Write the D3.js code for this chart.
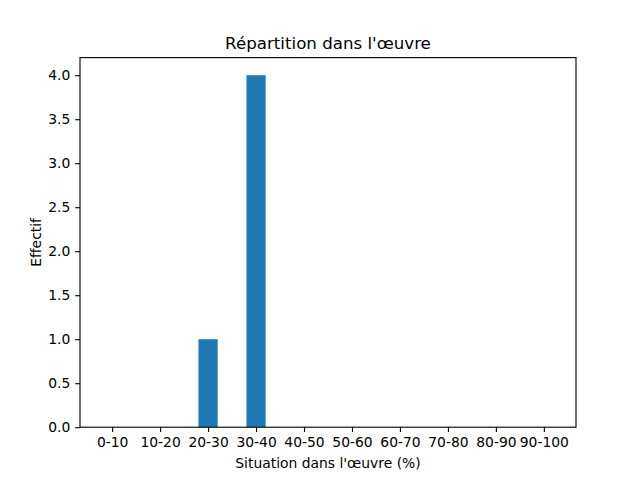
<!DOCTYPE html>
<html>
<head>
<meta charset="utf-8">
<script src="https://cdn.jsdelivr.net/npm/d3@7"></script>
<style>
  body { margin: 0; background: #fff; }
  svg text { font-family: "DejaVu Sans", sans-serif; fill: #000; }
</style>
</head>
<body>
<div id="viz"></div>
<script>
// Données
const categories = ['0-10', '10-20', '20-30', '30-40', '40-50', '50-60', '60-70', '70-80', '80-90', '90-100'];
const effectifs = [0, 0, 1, 4, 0, 0, 0, 0, 0, 0];
const yTicks = [0, 0.5, 1, 1.5, 2, 2.5, 3, 3.5, 4];

const COLOR_BAR = '#1f77b4';

let W = 640, H = 480;
let margin = {top: 57.6, right: 64, bottom: 52.8, left: 80},
    width = W - margin.left - margin.right,
    height = H - margin.top - margin.bottom;

let svg = d3.select('#viz')
  .append('svg')
    .attr('width', W)
    .attr('height', H);

let g = svg.append('g')
  .attr('transform', 'translate(' + margin.left + ',' + margin.top + ')');

// largeur des barres 0.4, marges de 5% comme matplotlib
let barW = 0.4;
let lo = -barW / 2, hi = categories.length - 1 + barW / 2;
let pad = (hi - lo) * 0.05;
let x = d3.scaleLinear()
  .domain([lo - pad, hi + pad])
  .range([0, width]);

let y = d3.scaleLinear()
  .domain([0, d3.max(effectifs) * 1.05])
  .range([height, 0]);

// Barres
g.selectAll('.bars')
  .data(effectifs)
  .enter()
  .append('rect')
    .attr('class', 'bars')
    .attr('x', function(d, i) { return x(i - barW / 2); })
    .attr('width', function() { return x(barW) - x(0); })
    .attr('y', function(d) { return y(d); })
    .attr('height', function(d) { return y(0) - y(d); })
    .attr('fill', COLOR_BAR);

// Axes
let xAxis = d3.axisBottom(x)
  .tickValues(d3.range(categories.length))
  .tickFormat(function(i) { return categories[i]; })
  .tickSizeInner(4.86).tickSizeOuter(0).tickPadding(4.86);

let yAxis = d3.axisLeft(y)
  .tickValues(yTicks)
  .tickFormat(d3.format('.1f'))
  .tickSizeInner(4.86).tickSizeOuter(0).tickPadding(4.86);

let gx = g.append('g')
  .attr('transform', 'translate(0,' + height + ')')
  .call(xAxis);
let gy = g.append('g').call(yAxis);

[gx, gy].forEach(function(a) {
  a.select('.domain').remove();
  a.selectAll('line').attr('stroke', '#000').attr('stroke-width', 1.11);
  a.selectAll('text').style('font-size', '13.89px').style('font-family', '"DejaVu Sans", sans-serif');
});

// Cadre
g.append('rect')
  .attr('x', 0).attr('y', 0)
  .attr('width', width).attr('height', height)
  .attr('fill', 'none')
  .attr('stroke', '#000')
  .attr('stroke-width', 1.11);

// Titres
svg.append('text')
  .attr('x', margin.left + width / 2)
  .attr('y', margin.top - 8.3)
  .attr('text-anchor', 'middle')
  .style('font-size', '16.67px')
  .text("Répartition dans l'œuvre");

svg.append('text')
  .attr('x', margin.left + width / 2)
  .attr('y', 468)
  .attr('text-anchor', 'middle')
  .style('font-size', '13.89px')
  .text("Situation dans l'œuvre (%)");

svg.append('text')
  .attr('transform', 'translate(40.5,' + (margin.top + height / 2) + ') rotate(-90)')
  .attr('text-anchor', 'middle')
  .style('font-size', '13.89px')
  .text('Effectif');
</script>
</body>
</html>
